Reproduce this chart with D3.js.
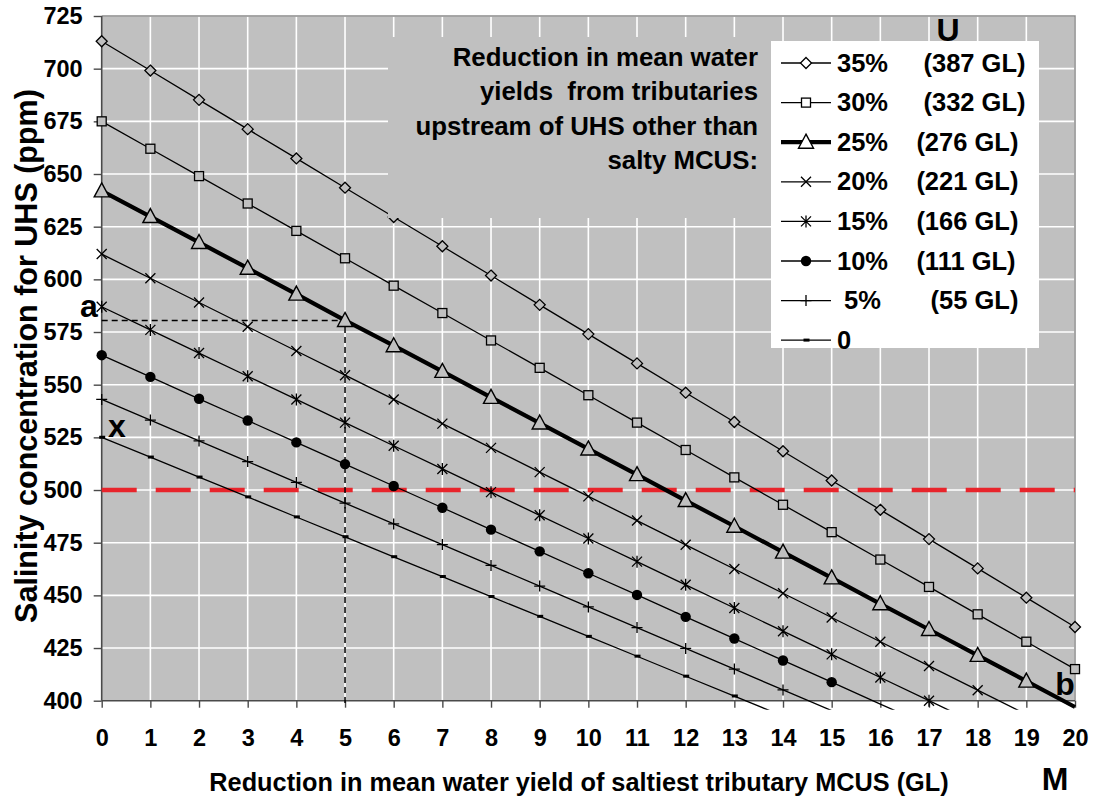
<!DOCTYPE html>
<html>
<head>
<meta charset="utf-8">
<script src="https://cdn.jsdelivr.net/npm/d3@7"></script>
<style>
  body { margin: 0; background: #fff; }
  svg text { font-family: "Liberation Sans", Arial, sans-serif; font-weight: bold; fill: #000; }
</style>
</head>
<body>
<svg id="chart" width="1094" height="802"></svg>
<script>
// Reduction in mean water yield of the saltiest tributary (GL)
const categories = [0, 1, 2, 3, 4, 5, 6, 7, 8, 9, 10, 11, 12, 13, 14, 15, 16, 17, 18, 19, 20];
const yTicks = [400, 425, 450, 475, 500, 525, 550, 575, 600, 625, 650, 675, 700, 725];

// Salinity at UHS (ppm) for each reduction scenario of the other tributaries
const red35 = [713, 699.1, 685.2, 671.3, 657.4, 643.5, 629.6, 615.7, 601.8, 587.9, 574, 560.1, 546.2, 532.3, 518.4, 504.5, 490.6, 476.7, 462.8, 448.9, 435];
const red30 = [675, 662, 649, 636, 623, 610, 597, 584, 571, 558, 545, 532, 519, 506, 493, 480, 467, 454, 441, 428, 415];
const red25 = [642, 629.8, 617.5, 605.3, 593, 580.5, 568.5, 556.3, 544, 531.8, 519.5, 507.3, 495, 482.8, 470.5, 458.3, 446, 433.8, 421.5, 409.3, 397];
const red20 = [612, 600.5, 589, 577.5, 566, 554.5, 543, 531.5, 520, 508.5, 497, 485.5, 474, 462.5, 451, 439.5, 428, 416.5, 405, 393.5, 382];
const red15 = [587, 576, 565, 554, 543, 532, 521, 510, 499, 488, 477, 466, 455, 444, 433, 422, 411, 400, 389, 378, 367];
const red10 = [564, 553.7, 543.3, 533, 522.6, 512.3, 501.9, 491.6, 481.2, 470.9, 460.5, 450.2, 439.8, 429.5, 419.1, 408.8, 398.4, 388.1, 377.7, 367.4, 357];
const red05 = [543, 533.2, 523.3, 513.5, 503.6, 493.8, 483.9, 474.1, 464.2, 454.4, 444.5, 434.7, 424.8, 415, 405.1, 395.3, 385.4, 375.6, 365.7, 355.9, 346];
const red00 = [525, 515.6, 506.1, 496.7, 487.2, 477.8, 468.3, 458.9, 449.4, 440, 430.5, 421.1, 411.6, 402.2, 392.7, 383.3, 373.8, 364.4, 354.9, 345.5, 336];

const seriesLabels = ["35%     (387 GL)", "30%     (332 GL)", "25%    (276 GL)", "20%    (221 GL)",
                      "15%    (166 GL)", "10%    (111 GL)", " 5%       (55 GL)", "0"];
const targetSalinity = 500;     // salinity target line
const scenarioYield = 5;        // worked example: 25% scenario with 5 GL from MCUS
const noteLines = ["Reduction in mean water", "yields  from tributaries", "upstream of UHS other than", "salty MCUS:"];
const xTitle = "Reduction in mean water yield of saltiest tributary MCUS (GL)";
const yTitle = "Salinity concentration for UHS (ppm)";

const series = [
  { values: red35, marker: "diamond",  width: 1.3 },
  { values: red30, marker: "square",   width: 1.3 },
  { values: red25, marker: "triangle", width: 4.2 },
  { values: red20, marker: "cross",    width: 1.3 },
  { values: red15, marker: "star",     width: 1.3 },
  { values: red10, marker: "circle",   width: 1.3 },
  { values: red05, marker: "plus",     width: 1.3 },
  { values: red00, marker: "dash",     width: 1.3 }
];

const svg = d3.select("#chart");
const plot = { left: 101.7, right: 1075, top: 16, bottom: 700.7 };
const plotBg = "#c0c0c0";

const x = d3.scaleLinear().domain([0, 20]).range([plot.left, plot.right]);
const y = d3.scaleLinear().domain([400, 725]).range([plot.bottom, plot.top]);

// plot background
svg.append("rect")
  .attr("x", plot.left).attr("y", plot.top)
  .attr("width", plot.right - plot.left).attr("height", plot.bottom - plot.top)
  .attr("fill", plotBg);

// gridlines
svg.append("g").selectAll("line").data(categories.slice(1)).join("line")
  .attr("x1", d => x(d)).attr("x2", d => x(d))
  .attr("y1", plot.top).attr("y2", plot.bottom)
  .attr("stroke", "#fff").attr("stroke-width", 1.6);
svg.append("g").selectAll("line").data(yTicks.slice(1)).join("line")
  .attr("x1", plot.left).attr("x2", plot.right)
  .attr("y1", d => y(d)).attr("y2", d => y(d))
  .attr("stroke", "#fff").attr("stroke-width", 1.6);

// top / right frame
svg.append("path")
  .attr("d", `M${plot.left},${plot.top}H${plot.right}V${plot.bottom}`)
  .attr("fill", "none").attr("stroke", "#8a8a8a").attr("stroke-width", 1.5);

// axes
const yAxis = svg.append("g").attr("transform", `translate(${plot.left},0)`)
  .call(d3.axisLeft(y).tickValues(yTicks).tickSize(8).tickPadding(11).tickFormat(d3.format("d")));
const xAxis = svg.append("g").attr("transform", `translate(0,${plot.bottom})`)
  .call(d3.axisBottom(x).tickValues(categories).tickSize(7).tickPadding(22).tickFormat(d3.format("d")));
[yAxis, xAxis].forEach(a => {
  a.select(".domain").attr("stroke", "#4a4a4a").attr("stroke-width", 1.6);
  a.selectAll(".tick line").attr("stroke", "#4a4a4a").attr("stroke-width", 1.4);
  a.selectAll(".tick text").attr("font-size", 23.5).style("font-family", "Liberation Sans, Arial, sans-serif").style("font-weight", "bold").attr("fill", "#000");
});
yAxis.select(".domain").attr("d", `M0,${plot.top}V${plot.bottom}`);
xAxis.select(".domain").attr("d", `M${plot.left},0H${plot.right}`);

// target salinity line
svg.append("line")
  .attr("x1", x(0)).attr("x2", x(20))
  .attr("y1", y(targetSalinity)).attr("y2", y(targetSalinity))
  .attr("stroke", "#e8242b").attr("stroke-width", 4.5)
  .attr("stroke-dasharray", "35 19");

// worked example guide lines
const exampleValue = red25[categories.indexOf(scenarioYield)];
svg.append("path")
  .attr("d", `M${x(0)},${y(exampleValue)}H${x(scenarioYield)}V${plot.bottom + 4}`)
  .attr("fill", "none").attr("stroke", "#000").attr("stroke-width", 1.5)
  .attr("stroke-dasharray", "6 4");

// series lines, clipped just below the axis
svg.append("clipPath").attr("id", "plotClip")
  .append("rect").attr("x", plot.left - 2).attr("y", plot.top)
  .attr("width", plot.right - plot.left + 8).attr("height", plot.bottom - plot.top + 9);

const line = d3.line().x((d, i) => x(categories[i])).y(d => y(d));
const lineLayer = svg.append("g").attr("clip-path", "url(#plotClip)");
series.forEach(s => {
  lineLayer.append("path")
    .attr("d", line(s.values))
    .attr("fill", "none").attr("stroke", "#000")
    .attr("stroke-width", s.width).attr("stroke-linejoin", "round");
});

function drawMarker(g, type, cx, cy, bg) {
  switch (type) {
    case "diamond":
      g.append("path").attr("d", `M${cx},${cy - 5.5}L${cx + 5.5},${cy}L${cx},${cy + 5.5}L${cx - 5.5},${cy}Z`)
        .attr("fill", bg).attr("stroke", "#000").attr("stroke-width", 1.3);
      break;
    case "square":
      g.append("rect").attr("x", cx - 4.5).attr("y", cy - 4.5).attr("width", 9).attr("height", 9)
        .attr("fill", bg).attr("stroke", "#000").attr("stroke-width", 1.3);
      break;
    case "triangle":
      g.append("path").attr("d", `M${cx},${cy - 8}L${cx + 7.5},${cy + 6}L${cx - 7.5},${cy + 6}Z`)
        .attr("fill", bg).attr("stroke", "#000").attr("stroke-width", 1.4);
      break;
    case "cross":
      g.append("path").attr("d", `M${cx - 5},${cy - 5}L${cx + 5},${cy + 5}M${cx - 5},${cy + 5}L${cx + 5},${cy - 5}`)
        .attr("stroke", "#000").attr("stroke-width", 1.3);
      break;
    case "star":
      g.append("path").attr("d", `M${cx - 5},${cy - 5}L${cx + 5},${cy + 5}M${cx - 5},${cy + 5}L${cx + 5},${cy - 5}M${cx},${cy - 6}V${cy + 6}`)
        .attr("stroke", "#000").attr("stroke-width", 1.3);
      break;
    case "circle":
      g.append("circle").attr("cx", cx).attr("cy", cy).attr("r", 5.2).attr("fill", "#000");
      break;
    case "plus":
      g.append("path").attr("d", `M${cx - 5.5},${cy}H${cx + 5.5}M${cx},${cy - 5.5}V${cy + 5.5}`)
        .attr("stroke", "#000").attr("stroke-width", 1.3);
      break;
    case "dash":
      g.append("rect").attr("x", cx - 2.5).attr("y", cy - 1.6).attr("width", 6).attr("height", 3).attr("fill", "#000");
      break;
  }
}

// markers (only within the axis range)
const markerLayer = svg.append("g");
series.forEach(s => {
  s.values.forEach((v, i) => {
    if (v >= 400) drawMarker(markerLayer, s.marker, x(categories[i]), y(v), plotBg);
  });
});

// note box
svg.append("rect").attr("x", 388).attr("y", 37).attr("width", 771 - 388).attr("height", 218 - 37).attr("fill", plotBg);
svg.append("g").selectAll("text").data(noteLines).join("text")
  .attr("x", 758).attr("y", (d, i) => 65.5 + i * 34.5)
  .attr("text-anchor", "end").attr("font-size", 25.8).style("white-space", "pre").text(d => d);

// legend
const legend = svg.append("g");
legend.append("rect").attr("x", 771).attr("y", 41).attr("width", 1039 - 771).attr("height", 348 - 41).attr("fill", "#fff");
series.forEach((s, i) => {
  const ly = 63 + i * 39.6;
  legend.append("line").attr("x1", 781).attr("x2", 831).attr("y1", ly).attr("y2", ly)
    .attr("stroke", "#000").attr("stroke-width", s.width);
  drawMarker(legend, s.marker, 806, ly, "#fff");
  legend.append("text").attr("x", 837).attr("y", ly + 8.5)
    .attr("font-size", 25.5).style("white-space", "pre").text(seriesLabels[i]);
});

// point labels
const letters = [
  { t: "U", x: 948, y: 41 },
  { t: "a", x: 89, y: 317 },
  { t: "x", x: 117, y: 437 },
  { t: "b", x: 1065, y: 695 },
  { t: "M", x: 1055, y: 790 }
];
svg.append("g").selectAll("text").data(letters).join("text")
  .attr("x", d => d.x).attr("y", d => d.y).attr("text-anchor", "middle")
  .attr("font-size", 32).text(d => d.t);

// axis titles
svg.append("text").attr("x", 579).attr("y", 791).attr("text-anchor", "middle")
  .attr("font-size", 25.3).text(xTitle);
svg.append("text").attr("transform", `translate(37,356) rotate(-90)`)
  .attr("text-anchor", "middle").attr("font-size", 30.5).text(yTitle);
</script>
</body>
</html>
